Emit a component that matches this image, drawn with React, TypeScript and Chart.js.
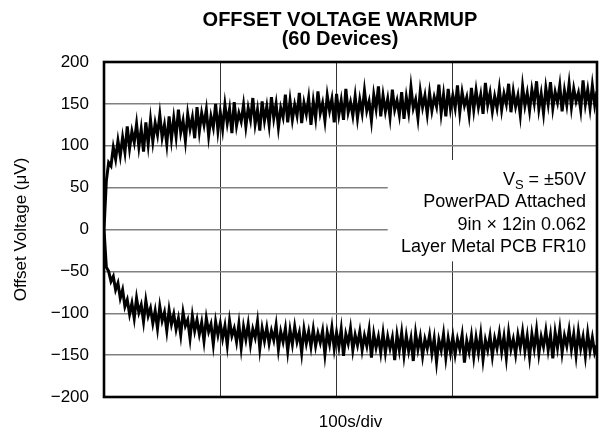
import React, { useEffect, useRef } from 'react';
import { Chart, registerables } from 'chart.js';

Chart.register(...registerables);

// Sampling interval of the traces (seconds); x axis is 100 s per division.
const SAMPLE_INTERVAL_S = 2;
const X_MAX_S = 424;
const X_DIV_S = 100;

// Upper trace (µV), one value every 2 s
const UPPER_UV = [
  0, 58, 80, 76, 98, 84, 106, 88, 110, 92,
  123, 97, 117, 104, 126, 99, 120, 93, 128, 102,
  131, 105, 127, 113, 137, 110, 125, 102, 135, 108,
  133, 111, 143, 116, 130, 106, 138, 120, 134, 109,
  146, 117, 139, 125, 143, 112, 135, 122, 150, 118,
  140, 120, 149, 127, 144, 115, 152, 124, 139, 129,
  149, 123, 145, 131, 157, 126, 143, 118, 153, 130,
  147, 125, 158, 133, 150, 122, 145, 134, 161, 128,
  154, 131, 149, 136, 163, 127, 151, 138, 157, 125,
  153, 133, 165, 139, 151, 130, 160, 142, 156, 128,
  162, 137, 154, 131, 168, 140, 152, 136, 159, 133,
  155, 139, 166, 142, 153, 130, 161, 144, 171, 135,
  160, 141, 156, 134, 167, 143, 154, 137, 164, 132,
  158, 140, 170, 145, 155, 133, 165, 146, 160, 138,
  163, 142, 158, 147, 173, 139, 161, 135, 168, 144,
  160, 145, 172, 140, 164, 148, 158, 137, 169, 143,
  166, 146, 161, 138, 175, 149, 163, 141, 159, 145,
  168, 143, 162, 150, 174, 140, 165, 147, 160, 137,
  171, 148, 163, 142, 167, 151, 177, 144, 162, 139,
  169, 150, 176, 145, 164, 152, 172, 141, 166, 149,
  174, 146, 168, 153, 163, 143, 178, 150, 167, 145,
  172, 149, 165,
];

// Lower trace (µV), one value every 2 s
const LOWER_UV = [
  0, -45, -50, -62, -56, -72, -64, -82, -72, -92,
  -84, -101, -88, -106, -82, -99, -90, -110, -85, -103,
  -94, -112, -97, -118, -92, -109, -99, -121, -96, -113,
  -101, -119, -106, -126, -99, -115, -108, -130, -103, -121,
  -108, -125, -111, -133, -106, -122, -113, -137, -110, -126,
  -112, -130, -115, -138, -109, -127, -118, -134, -113, -141,
  -116, -131, -113, -137, -119, -129, -110, -142, -118, -133,
  -117, -136, -121, -132, -114, -143, -122, -134, -118, -145,
  -120, -137, -116, -134, -123, -147, -119, -136, -122, -140,
  -119, -139, -124, -135, -121, -149, -123, -137, -117, -142,
  -123, -140, -119, -151, -125, -136, -118, -144, -126, -138,
  -122, -144, -127, -139, -120, -153, -125, -141, -128, -147,
  -124, -147, -128, -142, -129, -156, -126, -144, -123, -150,
  -127, -145, -130, -157, -124, -143, -128, -151, -131, -142,
  -126, -148, -130, -158, -132, -144, -125, -153, -130, -147,
  -128, -149, -131, -143, -126, -159, -133, -146, -127, -152,
  -129, -147, -125, -155, -132, -144, -127, -151, -130, -142,
  -124, -146, -128, -153, -123, -143, -131, -149, -126, -141,
  -122, -145, -127, -152, -125, -142, -120, -148, -128, -140,
  -121, -144, -126, -154, -123, -141, -119, -147, -127, -139,
  -120, -143, -125, -150, -122, -142, -128, -151, -124, -145,
  -129, -147, -138,
];

const Y_MIN = -200;
const Y_MAX = 200;
const Y_STEP = 50;

const TITLE_LINES = ['OFFSET VOLTAGE WARMUP', '(60 Devices)'];
const Y_TITLE = 'Offset Voltage (\u03BCV)';
const X_TITLE = '100s/div';
const NOTE_VS = { main: 'V', sub: 'S', rest: ' = \u00B150V' };
const NOTE_LINES = ['PowerPAD Attached', '9in \u00D7 12in 0.062', 'Layer Metal PCB FR10'];

const FONT = '"Liberation Sans", Arial, Helvetica, sans-serif';

const fmtTick = (v: number) => (v < 0 ? '\u2212' + Math.abs(v) : String(v));
const toPoints = (arr: number[]) => arr.map((y, i) => ({ x: i * SAMPLE_INTERVAL_S, y }));

const overlayPlugin = {
  id: 'overlay',
  afterDraw(chart: any) {
    const { ctx, chartArea: a, scales } = chart;
    const xs = scales.x;
    const ys = scales.y;
    ctx.save();
    // white note box covering the grid
    const bx = xs.getPixelForValue(244);
    const by = ys.getPixelForValue(83);
    const bb = ys.getPixelForValue(-38);
    ctx.fillStyle = '#ffffff';
    ctx.fillRect(bx, by, a.right - bx, bb - by);

    // note text, right aligned
    ctx.fillStyle = '#000000';
    const tx = a.right - 11;
    ctx.textBaseline = 'alphabetic';
    ctx.textAlign = 'left';
    ctx.font = `18px ${FONT}`;
    const wV = ctx.measureText(NOTE_VS.main).width;
    const wRest = ctx.measureText(NOTE_VS.rest).width;
    ctx.font = `13px ${FONT}`;
    const wS = ctx.measureText(NOTE_VS.sub).width;
    const x0 = tx - (wV + wS + wRest);
    const y1 = 185;
    ctx.font = `18px ${FONT}`;
    ctx.fillText(NOTE_VS.main, x0, y1);
    ctx.font = `13px ${FONT}`;
    ctx.fillText(NOTE_VS.sub, x0 + wV, y1 + 4);
    ctx.font = `18px ${FONT}`;
    ctx.fillText(NOTE_VS.rest, x0 + wV + wS, y1);
    ctx.textAlign = 'right';
    NOTE_LINES.forEach((t, i) => ctx.fillText(t, tx, 207 + i * 22.5));

    // frame
    ctx.strokeStyle = '#000000';
    ctx.lineWidth = 2.6;
    ctx.strokeRect(a.left, a.top, a.right - a.left, a.bottom - a.top);

    // title
    ctx.font = `bold 20px ${FONT}`;
    ctx.textAlign = 'center';
    ctx.fillText(TITLE_LINES[0], 340, 26);
    ctx.fillText(TITLE_LINES[1], 340, 45);
    ctx.restore();
  },
};

export default function App() {
  const ref = useRef<HTMLCanvasElement>(null);
  useEffect(() => {
    if (!ref.current) return;
    const chart = new Chart(ref.current, {
      type: 'line',
      data: {
        datasets: [
          {
            data: toPoints(UPPER_UV),
            borderColor: '#000000',
            borderWidth: 3,
            pointRadius: 0,
            tension: 0,
            fill: false,
          },
          {
            data: toPoints(LOWER_UV),
            borderColor: '#000000',
            borderWidth: 3,
            pointRadius: 0,
            tension: 0,
            fill: false,
          },
        ],
      },
      options: {
        animation: false,
        responsive: false,
        devicePixelRatio: 1,
        layout: { padding: { top: 62, right: 3, left: 0, bottom: 0 } },
        plugins: {
          legend: { display: false },
          tooltip: { enabled: false },
          title: { display: false },
        },
        scales: {
          x: {
            type: 'linear',
            min: 0,
            max: X_MAX_S,
            ticks: { display: false, stepSize: X_DIV_S },
            grid: { color: '#333333', lineWidth: 1, drawTicks: false },
            border: { display: false },
            title: {
              display: true,
              text: X_TITLE,
              color: '#000000',
              font: { family: FONT, size: 17, lineHeight: 1 },
              padding: { top: 0, bottom: 3.5 },
            },
            afterFit: (s: any) => {
              s.height = 37;
            },
          },
          y: {
            type: 'linear',
            min: Y_MIN,
            max: Y_MAX,
            ticks: {
              stepSize: Y_STEP,
              color: '#000000',
              font: { family: FONT, size: 17 },
              padding: 15,
              callback: (v: any) => fmtTick(Number(v)),
            },
            grid: { color: '#808080', lineWidth: 1.5, drawTicks: false },
            border: { display: false },
            title: {
              display: true,
              text: Y_TITLE,
              color: '#000000',
              font: { family: FONT, size: 17, lineHeight: 1 },
              padding: { top: 12.5, bottom: 0 },
            },
            afterFit: (s: any) => {
              s.width = 104;
            },
          },
        },
      },
      plugins: [overlayPlugin],
    } as any);
    return () => chart.destroy();
  }, []);
  return (
    <div style={{ position: 'fixed', left: 0, top: 0, width: 600, height: 434, background: '#ffffff' }}>
      <canvas ref={ref} width={600} height={434} style={{ width: 600, height: 434, display: 'block' }} />
    </div>
  );
}
